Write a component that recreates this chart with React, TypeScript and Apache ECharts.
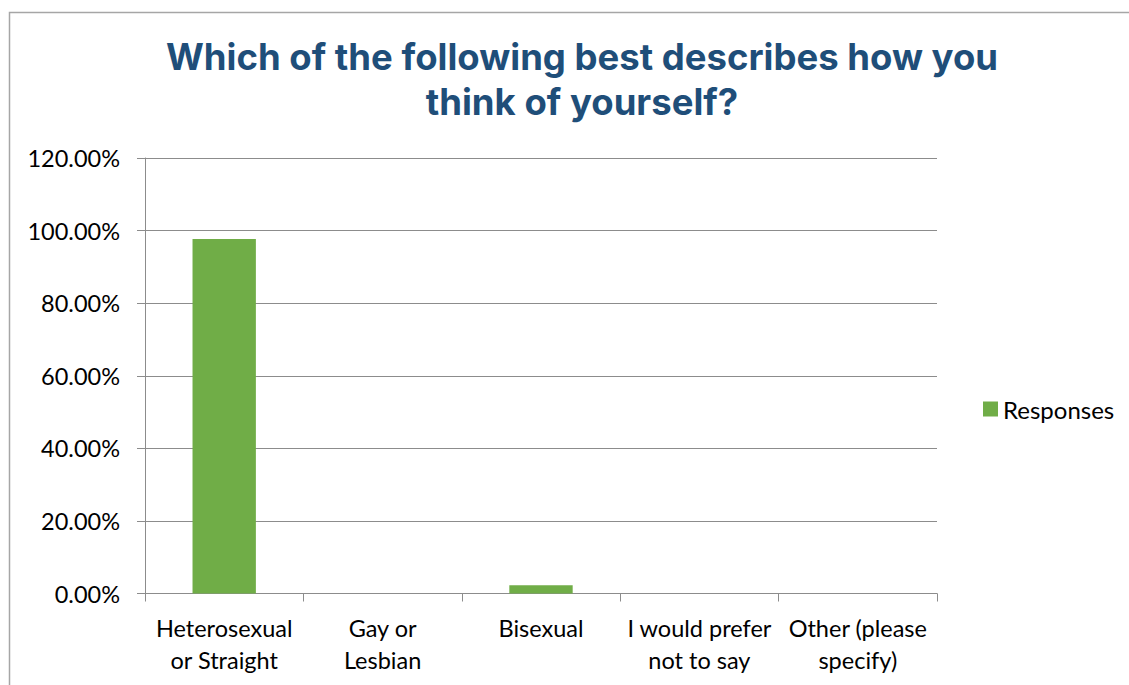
import React, { useEffect, useRef } from "react";
import * as echarts from "echarts";

const categories = [
  "Heterosexual\nor Straight",
  "Gay or\nLesbian",
  "Bisexual",
  "I would prefer\nnot to say",
  "Other (please\nspecify)",
];
const responses = [97.7, 0, 2.3, 0, 0];
const seriesName = "Responses";
const titleText = "Which of the following best describes how you\nthink of yourself?";

export default function App() {
  const ref = useRef<HTMLDivElement>(null);
  useEffect(() => {
    const chart = echarts.init(ref.current!, null, { renderer: "svg" });
    const labelFont = "Lato";
    chart.setOption({
      animation: false,
      backgroundColor: "#ffffff",
      title: {
        text: titleText,
        left: 577,
        top: 29,
        textAlign: "center",
        textStyle: {
          fontFamily: "Inter",
          fontWeight: "bold",
          fontSize: 36.5,
          lineHeight: 45,
          color: "#1F4E79",
        },
      },
      graphic: [
        {
          type: "polyline",
          shape: { points: [[9.5, 700], [9.5, 12.5], [1140, 12.5]] },
          style: { stroke: "#A6A6A6", lineWidth: 1.5, fill: "none" },
          silent: true,
        },
      ],
      legend: {
        left: 978,
        top: 392,
        orient: "vertical",
        itemWidth: 15,
        itemHeight: 15,
        itemGap: 8,
        icon: "rect",
        textStyle: { fontFamily: labelFont, fontSize: 24, color: "#000000" },
        data: [seriesName],
      },
      grid: { left: 145, right: 192, top: 158, bottom: 91.5, containLabel: false },
      xAxis: {
        type: "category",
        data: categories,
        axisLine: { lineStyle: { color: "#8C8C8C", width: 1 } },
        axisTick: { show: true, length: 8, alignWithLabel: false, lineStyle: { color: "#8C8C8C" } },
        axisLabel: {
          interval: 0,
          margin: 18,
          fontFamily: labelFont,
          fontSize: 23.5,
          lineHeight: 32,
          color: "#000000",
        },
      },
      yAxis: {
        type: "value",
        min: 0,
        max: 120,
        interval: 20,
        axisLine: { show: true, lineStyle: { color: "#8C8C8C", width: 1 } },
        axisTick: { show: true, length: 8, lineStyle: { color: "#8C8C8C" } },
        splitLine: { lineStyle: { color: "#8C8C8C", width: 1 } },
        axisLabel: {
          margin: 25,
          fontFamily: labelFont,
          fontSize: 23.5,
          color: "#000000",
          formatter: (v: number) => v.toFixed(2) + "%",
        },
      },
      series: [
        {
          name: seriesName,
          type: "bar",
          data: responses,
          barWidth: "40%",
          itemStyle: { color: "#70AD47" },
        },
      ],
    });
    return () => chart.dispose();
  }, []);
  return (
    <div
      ref={ref}
      style={{ position: "fixed", left: 0, top: 0, width: 1129, height: 685 }}
    />
  );
}
